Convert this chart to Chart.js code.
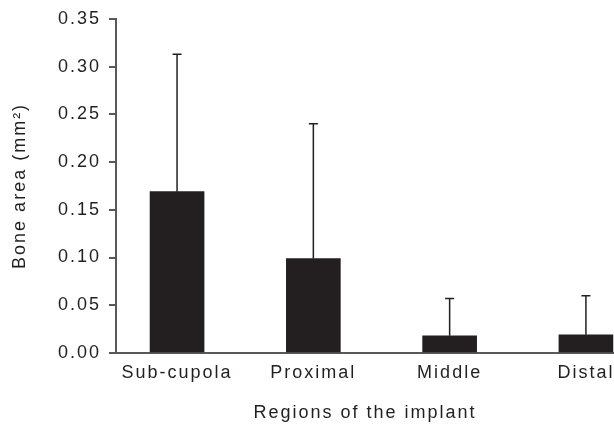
<!DOCTYPE html>
<html lang="en">
<head>
  <meta charset="UTF-8">
  <title>Bone area by region</title>
  <script src="https://cdn.jsdelivr.net/npm/chart.js"></script>
  <style>
    body {
      margin: 0;
      background: #ffffff;
      overflow: hidden;
    }
    canvas {
      display: block;
    }
  </style>
</head>
<body>
  <canvas id="boneChart" width="614" height="426"></canvas>

  <script>
    // data
    const regions = ['Sub-cupola', 'Proximal', 'Middle', 'Distal'];
    const boneArea = [0.169, 0.099, 0.018, 0.019];
    const boneAreaSD = [0.144, 0.141, 0.039, 0.041];

    const ink = '#231f20';
    const axisGrey = '#58595b';
    const font = { family: "'Liberation Sans', Arial, Helvetica, sans-serif", size: 18 };

    // the printed figure uses widely tracked type
    const tracking = {
      id: 'tracking',
      beforeLayout(chart) { chart.ctx.letterSpacing = '2px'; },
      beforeDraw(chart) { chart.ctx.letterSpacing = '2px'; }
    };

    // one-sided (upper) error bars with a small cap
    const errorBars = {
      id: 'errorBars',
      afterDatasetsDraw(chart) {
        const ctx = chart.ctx;
        const y = chart.scales.y;
        const meta = chart.getDatasetMeta(0);
        ctx.save();
        ctx.strokeStyle = ink;
        ctx.lineWidth = 1.5;
        meta.data.forEach((bar, i) => {
          const top = y.getPixelForValue(boneArea[i] + boneAreaSD[i]);
          ctx.beginPath();
          ctx.moveTo(bar.x, bar.y);
          ctx.lineTo(bar.x, top);
          ctx.moveTo(bar.x - 4.5, top);
          ctx.lineTo(bar.x + 4.5, top);
          ctx.stroke();
        });
        ctx.restore();
      }
    };

    const ctx = document.getElementById('boneChart').getContext('2d');
    new Chart(ctx, {
      type: 'bar',
      data: {
        datasets: [{
          data: regions.map((r, i) => ({ x: i, y: boneArea[i] })),
          backgroundColor: ink,
          borderWidth: 0,
          barThickness: 54
        }]
      },
      options: {
        responsive: false,
        animation: false,
        layout: { padding: { top: 18, right: 0, bottom: 0, left: 0 } },
        plugins: {
          legend: { display: false },
          tooltip: { enabled: false }
        },
        scales: {
          x: {
            type: 'linear',
            offset: false,
            min: -0.448,
            max: 3.206,
            afterFit: s => {
              s.height = 73;
              s.paddingLeft = 0;
              s.paddingRight = 0;
            },
            grid: { display: false, drawTicks: false, offset: false },
            border: { display: true, color: axisGrey, width: 2 },
            ticks: {
              stepSize: 1,
              includeBounds: false,
              autoSkip: false,
              maxRotation: 0,
              padding: 9,
              color: ink,
              font: font,
              callback: v => Number.isInteger(v) && regions[v] ? regions[v] : ''
            },
            title: {
              display: true,
              text: 'Regions of the implant',
              color: ink,
              font: font,
              padding: { top: 0, bottom: 2 }
            }
          },
          y: {
            min: 0,
            max: 0.35,
            afterFit: s => { s.width = 116; },
            grid: { drawOnChartArea: false, drawTicks: true, tickLength: 7, color: axisGrey, lineWidth: 2 },
            border: { display: true, color: axisGrey, width: 2 },
            ticks: {
              stepSize: 0.05,
              padding: 8,
              color: ink,
              font: font,
              callback: v => v.toFixed(2)
            },
            title: {
              display: true,
              text: 'Bone area (mm²)',
              color: ink,
              font: font,
              padding: { top: 9, bottom: 0 }
            }
          }
        }
      },
      plugins: [tracking, errorBars]
    });
  </script>
</body>
</html>
